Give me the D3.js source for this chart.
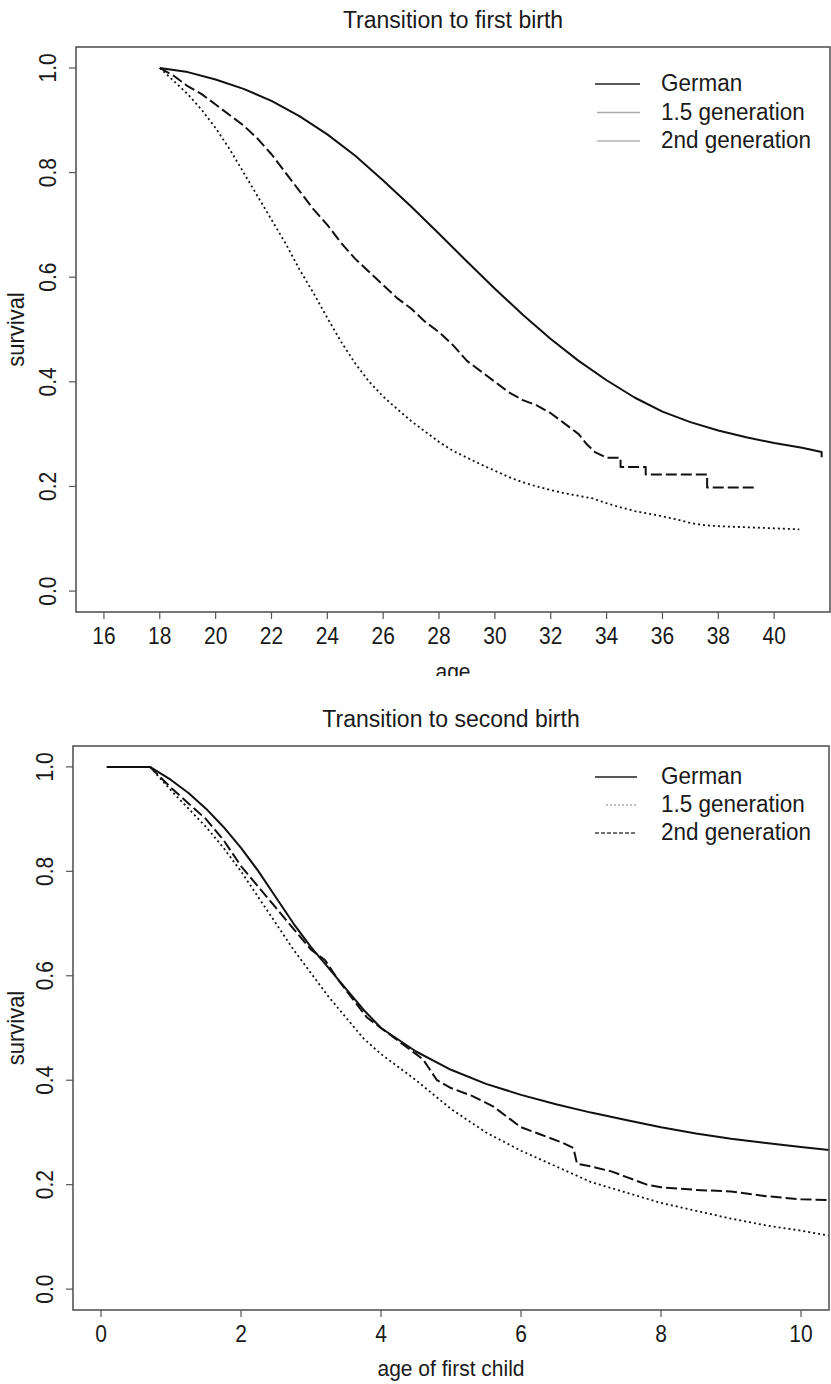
<!DOCTYPE html>
<html>
<head>
<meta charset="utf-8">
<script src="https://cdn.jsdelivr.net/npm/d3@7"></script>
<style>
  html, body { margin: 0; padding: 0; background: #fff; }
  svg { display: block; }
  text { font-family: "Liberation Sans", Arial, Helvetica, sans-serif; fill: #1a1a1a; }
</style>
</head>
<body>
<svg id="chart" width="831" height="1384"></svg>
<script>
// ---- Transition to first birth: Kaplan-Meier survival by age ----
const firstAgeGerman = [18, 19, 20, 21, 22, 23, 24, 25, 26, 27, 28, 29, 30, 31, 32, 33, 34, 35, 36, 37, 38, 39, 40, 41, 41.7, 41.7];
const firstSurvGerman = [1.000, 0.992, 0.978, 0.960, 0.937, 0.908, 0.873, 0.832, 0.785, 0.735, 0.683, 0.630, 0.578, 0.528, 0.482, 0.440, 0.403, 0.370, 0.343, 0.323, 0.307, 0.294, 0.283, 0.274, 0.266, 0.256];

const firstAgeGen15 = [18.0, 18.5, 19.0, 19.5, 20.0, 20.5, 21.0, 21.5, 22.0, 22.5, 23.0, 23.5, 24.0, 24.5, 25.0, 25.5, 26.0, 26.5, 27.0, 27.5, 28.0, 28.5, 29.0, 29.5, 30.0, 30.5, 31.0, 31.5, 32.0, 32.5, 33.0, 33.3, 33.6, 34.0, 34.5, 34.5, 35.4, 35.4, 37.6, 37.6, 39.3];
const firstSurvGen15 = [1.000, 0.985, 0.965, 0.950, 0.930, 0.910, 0.890, 0.865, 0.835, 0.800, 0.765, 0.730, 0.700, 0.665, 0.635, 0.610, 0.585, 0.560, 0.540, 0.515, 0.495, 0.470, 0.440, 0.420, 0.400, 0.380, 0.365, 0.355, 0.340, 0.320, 0.300, 0.280, 0.265, 0.255, 0.255, 0.237, 0.237, 0.223, 0.223, 0.198, 0.198];

const firstAgeGen2 = [18.0, 18.5, 19.0, 19.5, 20.0, 20.5, 21.0, 21.5, 22.0, 22.5, 23.0, 23.5, 24.0, 24.5, 25.0, 25.5, 26.0, 26.5, 27.0, 27.5, 28.0, 28.5, 29.0, 29.5, 30.0, 30.5, 31.0, 31.5, 32.0, 32.5, 33.0, 33.5, 34.0, 34.5, 35.0, 35.5, 36.0, 36.5, 37.0, 37.5, 38.0, 39.0, 40.0, 40.9];
const firstSurvGen2 = [1.000, 0.975, 0.950, 0.920, 0.885, 0.845, 0.800, 0.755, 0.710, 0.665, 0.615, 0.570, 0.522, 0.476, 0.435, 0.400, 0.372, 0.348, 0.325, 0.305, 0.285, 0.268, 0.255, 0.242, 0.230, 0.218, 0.208, 0.200, 0.193, 0.187, 0.182, 0.177, 0.168, 0.160, 0.153, 0.148, 0.143, 0.137, 0.130, 0.126, 0.124, 0.122, 0.120, 0.118];

// ---- Transition to second birth: survival by age of first child ----
const secondAgeGerman = [0.08, 0.70, 1.0, 1.25, 1.5, 1.75, 2.0, 2.25, 2.5, 2.75, 3.0, 3.25, 3.5, 3.75, 4.0, 4.5, 5.0, 5.5, 6.0, 6.5, 7.0, 7.5, 8.0, 8.5, 9.0, 9.5, 10.0, 10.5];
const secondSurvGerman = [1.000, 1.000, 0.975, 0.950, 0.920, 0.885, 0.845, 0.800, 0.750, 0.700, 0.655, 0.615, 0.575, 0.535, 0.500, 0.455, 0.420, 0.393, 0.372, 0.354, 0.338, 0.324, 0.310, 0.298, 0.288, 0.280, 0.272, 0.265];

const secondAgeGen15 = [0.70, 1.0, 1.25, 1.5, 1.75, 2.0, 2.25, 2.5, 2.75, 3.0, 3.2, 3.4, 3.6, 3.8, 4.0, 4.3, 4.6, 4.8, 5.0, 5.3, 5.6, 5.8, 6.0, 6.3, 6.6, 6.75, 6.8, 7.0, 7.3, 7.5, 7.8, 8.0, 8.5, 9.0, 9.5, 10.0, 10.5];
const secondSurvGen15 = [1.000, 0.960, 0.930, 0.900, 0.860, 0.810, 0.770, 0.730, 0.690, 0.650, 0.630, 0.590, 0.555, 0.520, 0.500, 0.470, 0.440, 0.400, 0.385, 0.370, 0.350, 0.330, 0.310, 0.295, 0.280, 0.270, 0.240, 0.235, 0.225, 0.215, 0.200, 0.195, 0.190, 0.187, 0.178, 0.172, 0.170];

const secondAgeGen2 = [0.70, 1.0, 1.25, 1.5, 1.75, 2.0, 2.25, 2.5, 2.75, 3.0, 3.25, 3.5, 3.75, 4.0, 4.5, 5.0, 5.5, 6.0, 6.5, 7.0, 7.5, 8.0, 8.5, 9.0, 9.5, 10.0, 10.5];
const secondSurvGen2 = [1.000, 0.955, 0.920, 0.885, 0.845, 0.800, 0.750, 0.700, 0.650, 0.605, 0.560, 0.520, 0.480, 0.450, 0.400, 0.345, 0.300, 0.265, 0.235, 0.205, 0.185, 0.165, 0.150, 0.135, 0.122, 0.112, 0.100];

// Tick labels
const survTicks = [0, 0.2, 0.4, 0.6, 0.8, 1.0];
const ageTicks = [16, 18, 20, 22, 24, 26, 28, 30, 32, 34, 36, 38, 40];
const childTicks = [0, 2, 4, 6, 8, 10];
const legendLabels = ["German", "1.5 generation", "2nd generation"];

const svg = d3.select("#chart");

const zip = (xs, ys) => xs.map((x, i) => [x, ys[i]]);

// Text drawn with a slight vertical stretch, as in the printed figure
function label(g, x, y, s, o = {}) {
  return g.append("text")
    .attr("transform", `translate(${x},${y}) rotate(${o.rotate || 0}) scale(${o.sx || 1},${o.sy || 1.12})`)
    .attr("text-anchor", o.anchor || "middle")
    .attr("font-size", o.size || 21)
    .text(s);
}

const styles = {
  solid:  { dash: null,   width: 2.0 },
  dashed: { dash: "11,4", width: 2.0 },
  dotted: { dash: "2,3",  width: 1.8 }
};

function panel(cfg) {
  const g = svg.append("g");
  const x = d3.scaleLinear().domain(cfg.xDomain).range([cfg.left, cfg.right]);
  const y = d3.scaleLinear().domain([-0.04, 1.04]).range([cfg.bottom, cfg.top]);

  const clipId = "clip-" + cfg.id;
  svg.append("clipPath").attr("id", clipId)
    .append("rect")
    .attr("x", cfg.left).attr("y", cfg.top)
    .attr("width", cfg.right - cfg.left).attr("height", cfg.bottom - cfg.top);

  // Survival curves
  const line = d3.line().x(d => x(d[0])).y(d => y(d[1])).curve(d3.curveLinear);
  const curves = g.append("g").attr("clip-path", `url(#${clipId})`);
  cfg.series.forEach(s => {
    const st = styles[s.style];
    curves.append("path")
      .datum(zip(s.x, s.y))
      .attr("fill", "none")
      .attr("stroke", "#111")
      .attr("stroke-width", st.width)
      .attr("stroke-dasharray", st.dash)
      .attr("stroke-linejoin", "round")
      .attr("d", line);
  });

  // Plot frame
  g.append("rect")
    .attr("x", cfg.left).attr("y", cfg.top)
    .attr("width", cfg.right - cfg.left).attr("height", cfg.bottom - cfg.top)
    .attr("fill", "none").attr("stroke", "#555").attr("stroke-width", 1.6);

  // X axis ticks and labels
  const xt = g.append("g");
  cfg.xTicks.forEach(v => {
    xt.append("line").attr("x1", x(v)).attr("x2", x(v))
      .attr("y1", cfg.bottom).attr("y2", cfg.bottom + 7)
      .attr("stroke", "#555").attr("stroke-width", 1.2);
    label(xt, x(v), cfg.bottom + 32, String(v));
  });

  // Y axis ticks and labels
  const yt = g.append("g");
  survTicks.forEach(v => {
    yt.append("line").attr("x1", cfg.left - 7).attr("x2", cfg.left)
      .attr("y1", y(v)).attr("y2", y(v))
      .attr("stroke", "#555").attr("stroke-width", 1.2);
    label(yt, cfg.left - 20, y(v), v.toFixed(1), { rotate: -90 });
  });

  // Titles
  label(g, (cfg.left + cfg.right) / 2, cfg.top - 19, cfg.title, { size: 23, sy: 1.05 });
  label(g, 24, (cfg.top + cfg.bottom) / 2, "survival", { rotate: -90, size: 22, sy: 1.08 });

  const xl = g.append("g");
  if (cfg.xClip) {
    svg.append("clipPath").attr("id", clipId + "-xl")
      .append("rect").attr("x", 0).attr("y", 0).attr("width", 831).attr("height", cfg.xClip);
    xl.attr("clip-path", `url(#${clipId}-xl)`);
  }
  label(xl, (cfg.left + cfg.right) / 2, cfg.bottom + cfg.xLabelOffset, cfg.xLabel, { size: 21, sy: 1.08 });

  // Legend
  const lg = g.append("g");
  legendLabels.forEach((name, i) => {
    const ly = cfg.legendY + i * cfg.legendStep;
    const ls = cfg.legendLines[i];
    lg.append("line")
      .attr("x1", ls.x1).attr("x2", cfg.legendX2)
      .attr("y1", ly).attr("y2", ly)
      .attr("stroke", ls.color).attr("stroke-width", 1.4)
      .attr("stroke-dasharray", ls.dash);
    label(lg, cfg.legendText, ly + 7, name, { anchor: "start", size: 22.5, sy: 1.05 });
  });
}

panel({
  id: "first",
  title: "Transition to first birth",
  xLabel: "age",
  xDomain: [15, 42],
  xTicks: ageTicks,
  left: 76, right: 830, top: 47, bottom: 612,
  xLabelOffset: 67, xClip: 676,
  legendY: 84, legendStep: 28.5, legendX2: 640, legendText: 661,
  legendLines: [
    { x1: 595, color: "#222", dash: null },
    { x1: 597, color: "#aaa", dash: null },
    { x1: 597, color: "#b3b3b3", dash: null }
  ],
  series: [
    { x: firstAgeGerman, y: firstSurvGerman, style: "solid" },
    { x: firstAgeGen15, y: firstSurvGen15, style: "dashed" },
    { x: firstAgeGen2, y: firstSurvGen2, style: "dotted" }
  ]
});

panel({
  id: "second",
  title: "Transition to second birth",
  xLabel: "age of first child",
  xDomain: [-0.4, 10.4],
  xTicks: childTicks,
  left: 73, right: 829, top: 746, bottom: 1310,
  xLabelOffset: 66, xClip: null,
  legendY: 777, legendStep: 28, legendX2: 637, legendText: 661,
  legendLines: [
    { x1: 595, color: "#222", dash: null },
    { x1: 606, color: "#aaa", dash: "2,2" },
    { x1: 595, color: "#444", dash: "4,2" }
  ],
  series: [
    { x: secondAgeGerman, y: secondSurvGerman, style: "solid" },
    { x: secondAgeGen15, y: secondSurvGen15, style: "dashed" },
    { x: secondAgeGen2, y: secondSurvGen2, style: "dotted" }
  ]
});
</script>
</body>
</html>
